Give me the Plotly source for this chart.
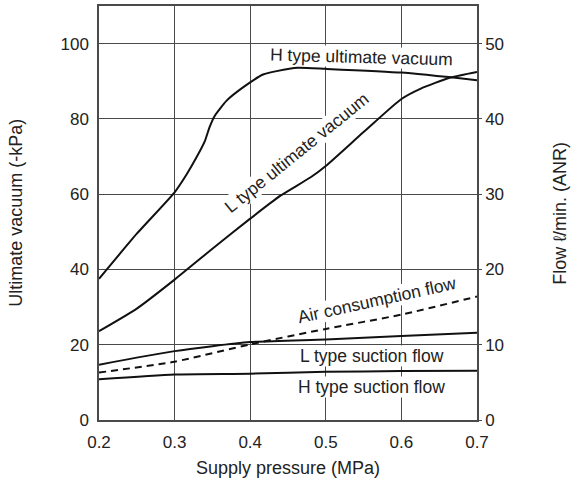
import plotly.graph_objects as go

# Supply pressure (MPa)
h_vac_x = [0.2, 0.25, 0.3, 0.316, 0.329, 0.34, 0.346, 0.353, 0.3685, 0.39, 0.417, 0.435, 0.463, 0.5, 0.6, 0.7]
h_vac_y = [37.5, 49.5, 60.5, 65.3, 69.8, 74.1, 77.7, 80.8, 84.8, 88.3, 91.8, 92.7, 93.6, 93.3, 92.3, 90.3]

l_vac_x = [0.2, 0.25, 0.3, 0.35, 0.4, 0.44, 0.48, 0.5, 0.55, 0.6, 0.625, 0.665, 0.7]
l_vac_y = [23.6, 29.6, 37.3, 45.5, 53.5, 59.6, 64.5, 67.5, 76.5, 85.3, 88.0, 91.0, 92.5]

flow_x = [0.2, 0.3, 0.4, 0.5, 0.6, 0.7]
air_flow = [6.3, 7.75, 10.05, 12.1, 14.0, 16.4]
l_suction = [7.35, 9.15, 10.35, 10.7, 11.15, 11.6]
h_suction = [5.4, 6.05, 6.15, 6.4, 6.5, 6.55]

x_ticks = [0.2, 0.3, 0.4, 0.5, 0.6, 0.7]
y_ticks = [0, 20, 40, 60, 80, 100]
y2_ticks = [0, 10, 20, 30, 40, 50]

FONT = "Liberation Sans, Arial, sans-serif"
LINE = "#111111"
GRID = "#4a4a4a"

fig = go.Figure()
fig.add_trace(go.Scatter(x=h_vac_x, y=h_vac_y, mode="lines",
                         line=dict(color=LINE, width=2, shape="spline", smoothing=0.5),
                         showlegend=False))
fig.add_trace(go.Scatter(x=l_vac_x, y=l_vac_y, mode="lines",
                         line=dict(color=LINE, width=2, shape="spline", smoothing=0.6),
                         showlegend=False))
fig.add_trace(go.Scatter(x=flow_x, y=air_flow, mode="lines", yaxis="y2",
                         line=dict(color=LINE, width=2, dash="7px,5px", shape="spline", smoothing=0.6),
                         showlegend=False))
fig.add_trace(go.Scatter(x=flow_x, y=l_suction, mode="lines", yaxis="y2",
                         line=dict(color=LINE, width=2, shape="spline", smoothing=0.6),
                         showlegend=False))
fig.add_trace(go.Scatter(x=flow_x, y=h_suction, mode="lines", yaxis="y2",
                         line=dict(color=LINE, width=2, shape="spline", smoothing=0.6),
                         showlegend=False))

ann_font = dict(family=FONT, size=17.5, color="#222222")
annotations = [
    dict(x=0.547, y=96.4, text="H type ultimate vacuum", textangle=1.5),
    dict(x=0.461, y=71.0, text="L type ultimate vacuum", textangle=-39),
    dict(x=0.568, y=32.0, text="Air consumption flow", textangle=-12.4),
    dict(x=0.561, y=17.0, text="L type suction flow", textangle=0),
    dict(x=0.5606, y=8.8, text="H type suction flow", textangle=0),
]
for a in annotations:
    fig.add_annotation(xref="x", yref="y", showarrow=False, font=ann_font,
                       bgcolor="white", borderpad=0, xanchor="center", yanchor="middle", **a)

title_font = dict(family=FONT, size=18, color="#222222")
fig.add_annotation(xref="paper", yref="paper", x=-0.2204, y=0.5, text="Ultimate vacuum (-kPa)",
                   textangle=-90, showarrow=False, font=title_font, xanchor="center", yanchor="middle")
fig.add_annotation(xref="paper", yref="paper", x=1.2188, y=0.5, text="Flow ℓ/min. (ANR)",
                   textangle=-90, showarrow=False, font=title_font, xanchor="center", yanchor="middle")
fig.add_annotation(xref="paper", yref="paper", x=0.5, y=-0.115, text="Supply pressure (MPa)",
                   showarrow=False, font=title_font, xanchor="center", yanchor="middle")

fig.update_layout(
    width=571, height=486,
    margin=dict(l=99, r=94, t=4, b=66),
    paper_bgcolor="white", plot_bgcolor="white",
    font=dict(family=FONT, size=17, color="#222222"),
    xaxis=dict(range=[0.2, 0.7], tickvals=x_ticks, ticktext=[f"{v:.1f}" for v in x_ticks],
               showgrid=True, gridcolor=GRID, gridwidth=1,
               showline=True, linecolor=GRID, linewidth=1.5, mirror=True,
               zeroline=False, ticks="", ticklabelstandoff=6),
    yaxis=dict(range=[0, 110], tickvals=y_ticks, showgrid=True, gridcolor=GRID, gridwidth=1,
               showline=True, linecolor=GRID, linewidth=1.5, mirror=True,
               zeroline=False, ticks="", ticklabelstandoff=5),
    yaxis2=dict(range=[0, 55], tickvals=y2_ticks, overlaying="y", side="right",
                showgrid=False, zeroline=False, showline=True, linecolor=GRID, linewidth=1.5,
                ticks="outside", ticklen=3, tickcolor=GRID, ticklabelstandoff=0),
)

fig.write_html("out.html", config={"displayModeBar": False},
               post_script="document.body.style.margin='0';document.body.style.overflow='hidden';")
